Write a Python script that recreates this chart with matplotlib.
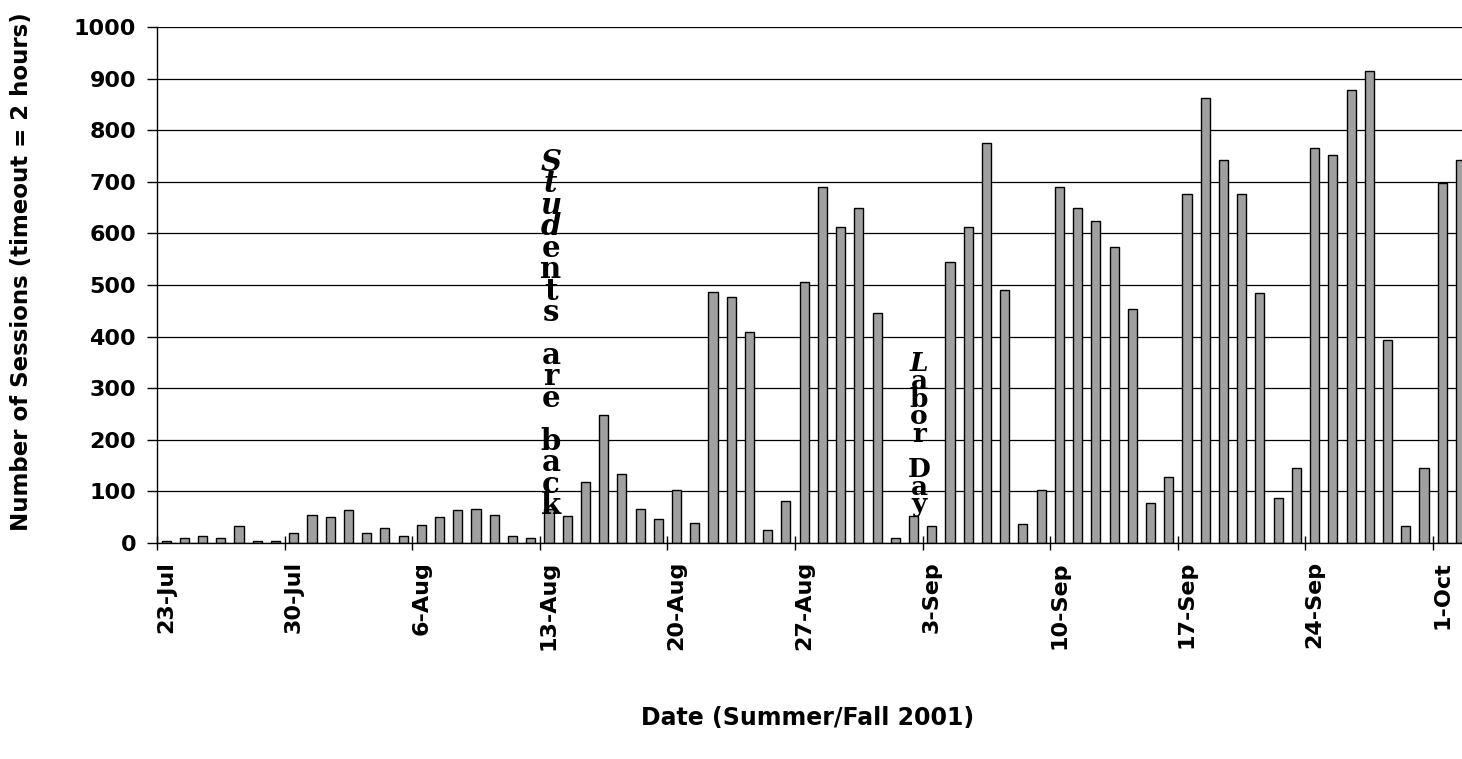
import matplotlib
matplotlib.use("Agg")
import matplotlib.pyplot as plt

# ---- data (daily session counts, 23-Jul-2001 .. 2-Oct-2001) ----
sessions = [
    4, 10, 13, 10, 32, 3, 3,            # 23-Jul .. 29-Jul
    19, 54, 50, 63, 19, 29, 13,         # 30-Jul .. 5-Aug
    35, 50, 63, 66, 54, 13, 10,         # 6-Aug .. 12-Aug
    66, 53, 119, 249, 134, 66, 47,      # 13-Aug .. 19-Aug
    103, 38, 486, 477, 408, 26, 81,     # 20-Aug .. 26-Aug
    505, 690, 612, 650, 446, 10, 53,    # 27-Aug .. 2-Sep
    32, 545, 612, 776, 490, 37, 102,    # 3-Sep .. 9-Sep
    689, 649, 624, 574, 453, 77, 128,   # 10-Sep .. 16-Sep
    676, 863, 742, 676, 484, 87, 146,   # 17-Sep .. 23-Sep
    766, 751, 878, 915, 393, 33, 146,   # 24-Sep .. 30-Sep
    698, 742,                           # 1-Oct .. 2-Oct
]
tick_labels = ["23-Jul", "30-Jul", "6-Aug", "13-Aug", "20-Aug", "27-Aug",
               "3-Sep", "10-Sep", "17-Sep", "24-Sep", "1-Oct"]
y_ticks = [0, 100, 200, 300, 400, 500, 600, 700, 800, 900, 1000]
note_students = "Students are back"
note_labor = "Labor Day"
x_title = "Date (Summer/Fall 2001)"
y_title = "Number of Sessions (timeout = 2 hours)"

# ---- figure ----
W, H, DPI = 1462, 759, 100
fig = plt.figure(figsize=(W / DPI, H / DPI), dpi=DPI)
ax = fig.add_axes([157 / W, 1 - 543 / H, 1 - 157 / W, (543 - 27) / H])

days = list(range(len(sessions)))
centers = [d + 0.5 for d in days]
ax.bar(centers, sessions, width=0.5, color="#a0a0a0", edgecolor="black",
       linewidth=1.0, zorder=3)

ax.set_ylim(0, 1000)
ax.set_xlim(0, (W - 157) / 18.23)

for s in ["top", "right"]:
    ax.spines[s].set_visible(False)
for s in ["left", "bottom"]:
    ax.spines[s].set_linewidth(1.0)
    ax.spines[s].set_zorder(4)

ax.set_yticks(y_ticks)
ax.set_yticklabels([str(v) for v in y_ticks])
ax.yaxis.grid(True, color="black", linewidth=0.9, zorder=1)
ax.set_axisbelow(True)

week_pos = [7 * i for i in range(len(tick_labels))]
ax.set_xticks(week_pos)
ax.set_xticklabels([""] * len(week_pos))
ax.set_xticks([p + 0.5 for p in week_pos], minor=True)
ax.set_xticklabels(tick_labels, minor=True, rotation=90)

ax.tick_params(axis="x", which="major", direction="inout", length=10, width=1)
ax.tick_params(axis="x", which="minor", length=0, pad=13)
ax.tick_params(axis="y", direction="out", length=7, width=1, pad=8)

for t in ax.get_xticklabels(minor=True) + ax.get_yticklabels():
    t.set_fontfamily("DejaVu Sans")
    t.set_fontweight("bold")
    t.set_fontsize(16)

fig.text(808 / W, 1 - 718 / H, x_title, ha="center", va="center",
         family="DejaVu Sans", weight="bold", size=17)
fig.text(22 / W, 1 - 272 / H, y_title, ha="center", va="center",
         rotation=90, family="DejaVu Sans", weight="bold", size=16.5)

# ---- stacked "WordArt" annotations ----
def stacked(text, x, y_top, y_bot, size, italic_upto=0):
    n = len(text)
    step = (y_top - y_bot) / (n - 1)
    for i, ch in enumerate(text):
        if ch == " ":
            continue
        ax.text(x, y_top - i * step, ch, ha="center", va="center",
                family="DejaVu Serif", weight="bold",
                style="italic" if i < italic_upto else "normal",
                fontsize=size, zorder=6, color="black")

stacked(note_students, 21.6, 738, 72, 21, italic_upto=4)
stacked(note_labor, 41.8, 347, 74, 19, italic_upto=1)

fig.savefig("out.png", dpi=DPI)
